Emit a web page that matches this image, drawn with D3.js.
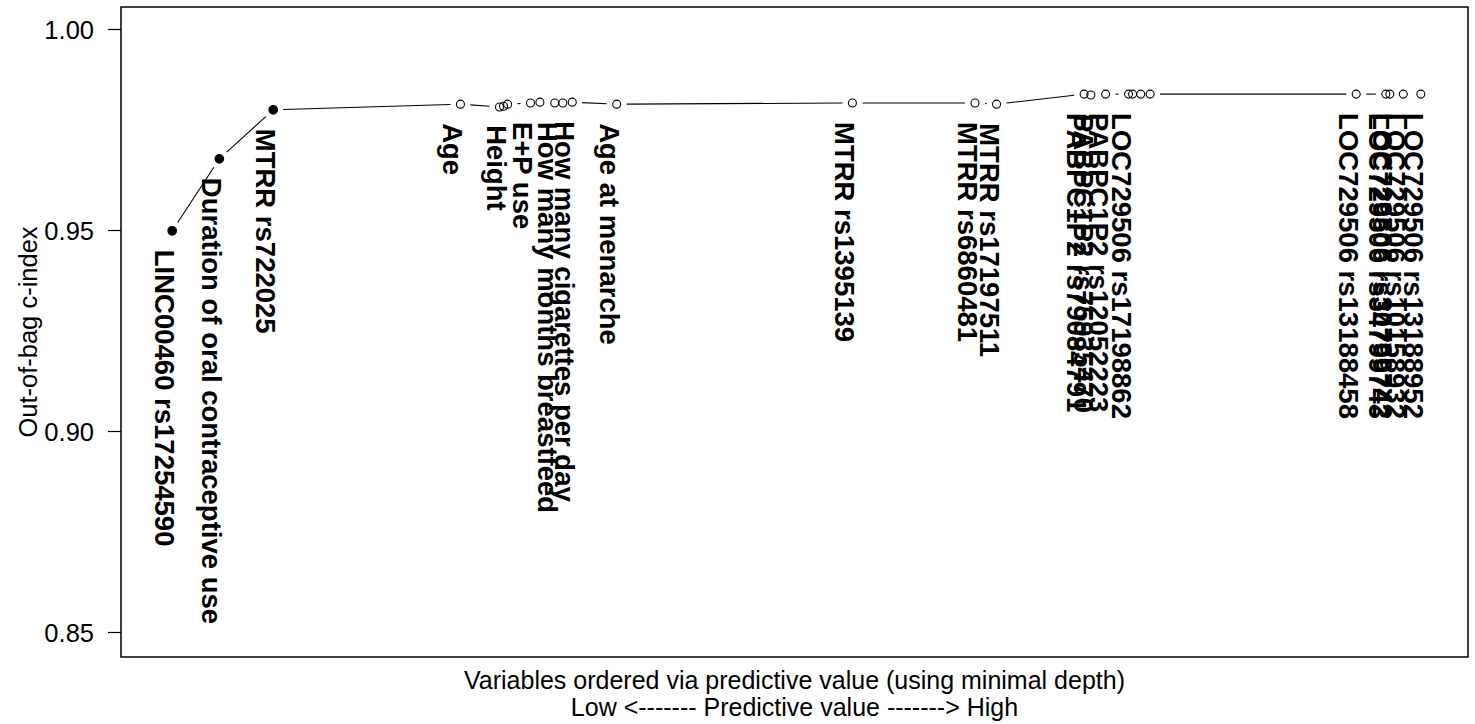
<!DOCTYPE html>
<html>
<head>
<meta charset="utf-8">
<script src="https://cdn.jsdelivr.net/npm/d3@7"></script>
<style>
  body { margin: 0; background: #fff; }
  svg { display: block; }
  text { font-family: "Liberation Sans", Arial, sans-serif; fill: #000; }
</style>
</head>
<body>
<svg id="chart" width="1475" height="724"></svg>
<script>
// variables in order of entry (minimal depth), "" = point without a label
var variables = [
  "LINC00460 rs17254590", "Duration of oral contraceptive use", "MTRR rs722025",
  "Age", "", "Height", "", "E+P use", "", "How many months breastfeed", "",
  "How many cigarettes per day", "Age at menarche", "MTRR rs1395139",
  "MTRR rs6860481", "MTRR rs17197511",
  "PABPC1P2 rs79084791", "PABPC1P2 rs75935470", "PABPC1P2 rs12052223",
  "LOC729506 rs17198862", "", "", "",
  "LOC729506 rs13188458", "LOC729506 rs34799743", "LOC729506 rs30799742",
  "LOC729506 rs10158932", "LOC729506 rs13188952"
];
// position along the predictive-value axis (0 = low, 100 = high)
var depthPos = [
  3.8, 7.3, 11.3,
  25.2, 28.1, 28.4, 28.7, 30.4, 31.1, 32.2, 32.8,
  33.5, 36.8, 54.3,
  63.4, 65.0,
  71.5, 72.0, 73.1,
  74.8, 75.1, 75.7, 76.4,
  91.7, 93.9, 94.2,
  95.2, 96.5
];
var cindex = [
  0.9498, 0.9677, 0.9799,
  0.9813, 0.9806, 0.9808, 0.9813, 0.9816, 0.9818, 0.9816, 0.9816,
  0.9818, 0.9813, 0.9816,
  0.9816, 0.9813,
  0.9838, 0.9836, 0.9838,
  0.9838, 0.9838, 0.9838, 0.9838,
  0.9838, 0.9838, 0.9838,
  0.9838, 0.9838
];
var inModel = [true, true, true];   // first variables kept in the model (filled)
var yTicks = [0.85, 0.90, 0.95, 1.00];

var data = variables.map(function(v, i) {
  return { name: v, pos: depthPos[i], c: cindex[i], filled: !!inModel[i] };
});

var box = { left: 121, right: 1468, top: 7, bottom: 657 };
var svg = d3.select("#chart");

var x = d3.scaleLinear().domain([0, 100]).range([box.left, box.right]);
var y = d3.scaleLinear().domain([0.85, 1.00]).range([632, 29]);

// plot frame
svg.append("rect")
  .attr("x", box.left).attr("y", box.top)
  .attr("width", box.right - box.left).attr("height", box.bottom - box.top)
  .attr("fill", "none").attr("stroke", "#000").attr("stroke-width", 1.5);

// y axis
var yAxis = d3.axisLeft(y).tickValues(yTicks).tickFormat(d3.format(".2f"))
  .tickSize(13).tickPadding(14);
var ya = svg.append("g").attr("transform", "translate(" + box.left + ",0)").call(yAxis);
ya.select(".domain").remove();
ya.selectAll("line").attr("stroke", "#000").attr("stroke-width", 1.2);
ya.selectAll("text").style("font-size", "25.5px").style("font-family", "Liberation Sans, Arial, sans-serif")
  .attr("fill", "#000").attr("dy", "0.36em");

// axis titles
svg.append("text")
  .attr("transform", "translate(37," + ((box.top + box.bottom) / 2) + ") rotate(-90)")
  .attr("text-anchor", "middle").style("font-size", "25.5px")
  .text("Out-of-bag c-index");
var mid = (box.left + box.right) / 2;
svg.append("text").attr("x", mid).attr("y", 689).attr("text-anchor", "middle")
  .style("font-size", "25px")
  .text("Variables ordered via predictive value (using minimal depth)");
svg.append("text").attr("x", mid).attr("y", 716).attr("text-anchor", "middle")
  .style("font-size", "25px")
  .text("Low <------- Predictive value -------> High");

// connecting line, R type = "b" style: segments stop short of the points
var gap = 10;
var segs = [];
for (var i = 1; i < data.length; i++) {
  var x0 = x(data[i - 1].pos), y0 = y(data[i - 1].c);
  var x1 = x(data[i].pos), y1 = y(data[i].c);
  var d = Math.hypot(x1 - x0, y1 - y0);
  if (d > 2 * gap) {
    var ux = (x1 - x0) / d, uy = (y1 - y0) / d;
    segs.push([x0 + ux * gap, y0 + uy * gap, x1 - ux * gap, y1 - uy * gap]);
  }
}
svg.append("g").selectAll("line").data(segs).enter().append("line")
  .attr("x1", function(s) { return s[0]; }).attr("y1", function(s) { return s[1]; })
  .attr("x2", function(s) { return s[2]; }).attr("y2", function(s) { return s[3]; })
  .attr("stroke", "#000").attr("stroke-width", 1.1);

// points
svg.append("g").selectAll("circle").data(data).enter().append("circle")
  .attr("cx", function(d) { return x(d.pos); })
  .attr("cy", function(d) { return y(d.c); })
  .attr("r", function(d) { return d.filled ? 4.3 : 4; })
  .attr("fill", function(d) { return d.filled ? "#000" : "#fff"; })
  .attr("fill-opacity", function(d) { return d.filled ? 1 : 0; })
  .attr("stroke", "#000").attr("stroke-width", 1.1);

// rotated variable labels hanging under each point
svg.append("g").selectAll("text").data(data.filter(function(d) { return d.name; }))
  .enter().append("text")
  .attr("transform", function(d) {
    return "translate(" + (x(d.pos) - 17) + "," + (y(d.c) + 19) + ") rotate(90)";
  })
  .style("font-size", "27.5px").style("font-weight", "bold")
  .text(function(d) { return d.name; });
</script>
</body>
</html>
